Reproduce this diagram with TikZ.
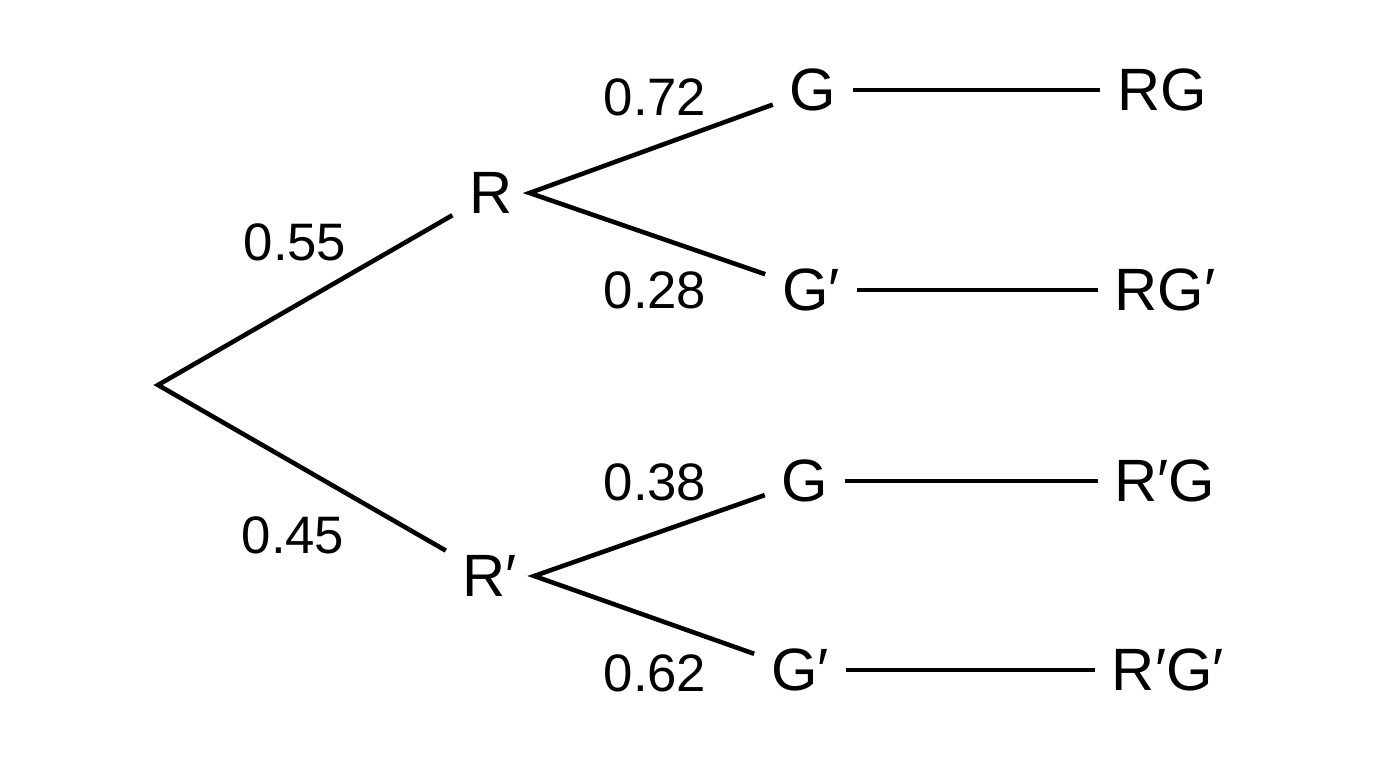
\documentclass[tikz,border=0pt]{standalone}
\usepackage{fontspec}
\setmainfont{Liberation Sans}
\usetikzlibrary{calc}

\tikzset{
  event/.style={inner sep=0.17cm, outer sep=0pt, font=\fontsize{17}{19}\selectfont},
  prob/.style={inner sep=0pt, font=\fontsize{15}{17}\selectfont},
  branch/.style={line width=1.3pt}
}

\begin{document}
\begin{tikzpicture}
\useasboundingbox (0,0) rectangle (13.76,-7.68);

\coordinate (start) at (1.58,-3.85);

\node[event] (R) at (4.91,-1.93) {R};
\node[event] (Rp) at (4.90,-5.76) {R′};

\node[event] (RG) at (8.13,-0.90) {G};
\node[event] (RGp) at (8.11,-2.90) {G′};
\node[event] (RpG) at (8.05,-4.81) {G};
\node[event] (RpGp) at (8.00,-6.70) {G′};

\node[event] (outRG) at (11.62,-0.90) {RG};
\node[event] (outRGp) at (11.65,-2.90) {RG′};
\node[event] (outRpG) at (11.65,-4.81) {R′G};
\node[event] (outRpGp) at (11.68,-6.70) {R′G′};

\draw[branch] (R) -- (start) -- (Rp);
\draw[branch] (RG) -- (R.east) -- (RGp);
\draw[branch] (RpG) -- (Rp.east) -- (RpGp);

\draw[branch] (RG) -- (outRG);
\draw[branch] (RGp) -- (outRGp);
\draw[branch] (RpG) -- (outRpG);
\draw[branch] (RpGp) -- (outRpGp);

\node[prob] (pR) at (2.95,-2.42) {0.55};
\node[prob] (pRp) at (2.93,-5.35) {0.45};

\node[prob] (pRG) at (6.55,-0.97) {0.72};
\node[prob] (pRGp) at (6.55,-2.90) {0.28};
\node[prob] (pRpG) at (6.55,-4.82) {0.38};
\node[prob] (pRpGp) at (6.55,-6.73) {0.62};

\end{tikzpicture}
\end{document}
